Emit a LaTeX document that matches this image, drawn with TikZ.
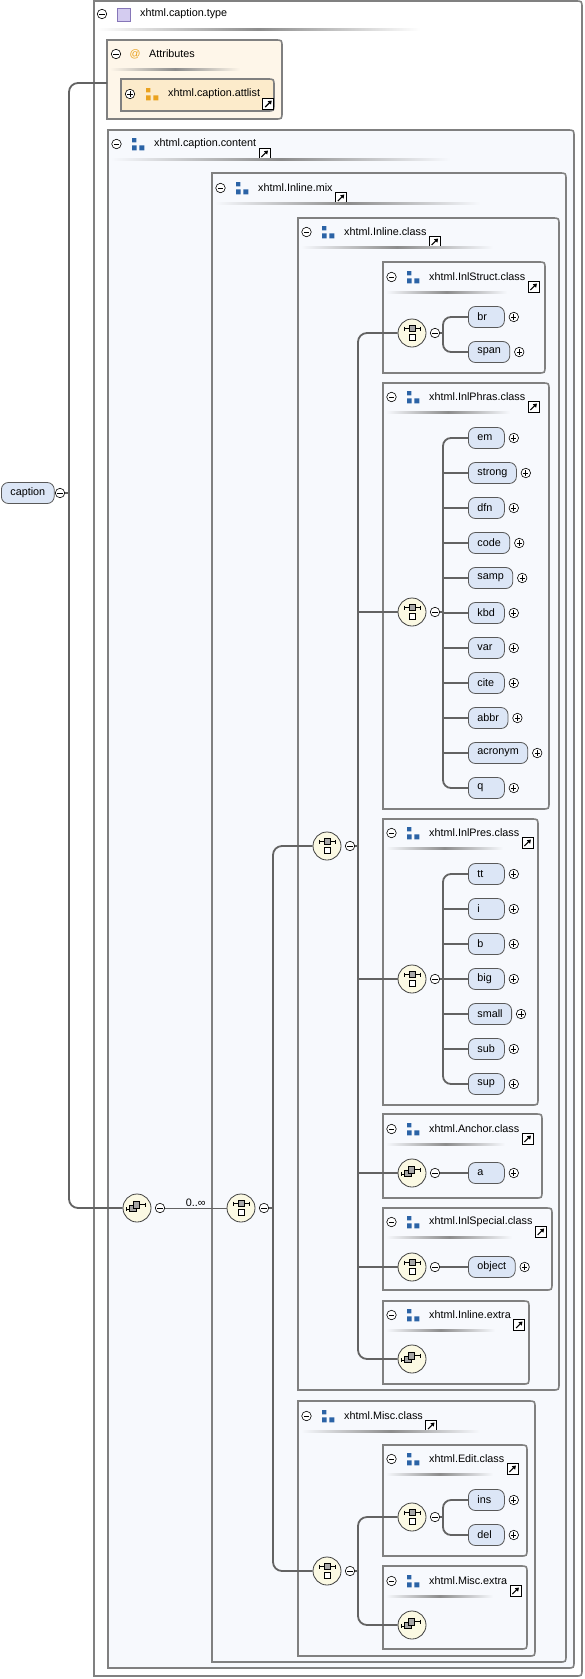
\documentclass[tikz,border=0pt]{standalone}
\usepackage{fontspec}
\setmainfont{Liberation Sans}
\usetikzlibrary{arrows.meta}

\definecolor{boxgray}{HTML}{808080}
\definecolor{boxfill}{HTML}{F7F9FD}
\definecolor{connline}{HTML}{636363}
\definecolor{elemfill}{HTML}{DCE6F6}
\definecolor{compfill}{HTML}{FBF9E3}
\definecolor{attrfill}{HTML}{FEF6E9}
\definecolor{attlfill}{HTML}{FCEBCB}
\definecolor{groupblue}{HTML}{2B63A6}
\definecolor{attrorange}{HTML}{EAA21E}
\definecolor{typefill}{HTML}{D4CCF0}
\definecolor{typeline}{HTML}{8676B8}

\newsavebox{\elnamebox}
\newcommand{\lname}[1]{\sbox{\elnamebox}{#1}\ifdim\wd\elnamebox<18pt\makebox[18pt][l]{#1}\else#1\fi}

% box with square left and round right corners
\newcommand{\rbox}[5][container]{%
  \draw[#1] (#2,#3) -- (#4-7,#3) .. controls (#4,#3) .. (#4,#3+7) -- (#4,#5-7) .. controls (#4,#5) .. (#4-7,#5) -- (#2,#5) -- cycle;}

\newcommand{\btitle}[5]{%
  \node[minus] (#1-o) at (#2+8.5,#3) {};
  \pic[groupblue] at (#2+30,#3) {groupsym};
  \node[title] (#1-t) at (#2+46,#3) {#4};
  \node[link] (#1-l) at ([shift={(8pt,-10pt)}]#1-t.east) {};
  \shade[left color=boxfill, right color=boxfill, middle color=black!45] (#2+3,#3+14) rectangle (#5,#3+16);}

\newcommand{\elem}[3]{%
  \node[elem] (#1) at (468,#2) {\lname{#3}};
  \node[plus] (#1-x) at ([xshift=9pt]#1.east) {};}

\tikzset{
  container/.style={draw=boxgray, line width=1.6pt, fill=boxfill},
  conn/.style={draw=connline, line width=1.8pt},
  title/.style={anchor=west, inner sep=0pt},
  elem/.style={draw=black!65, fill=elemfill, rounded corners=7pt, line width=0.8pt,
    minimum height=21pt, minimum width=36pt, inner xsep=9pt, inner ysep=0pt, anchor=west},
  comp/.style={circle, draw=black!75, fill=compfill, line width=0.8pt, minimum size=28pt, inner sep=0pt},
  minus/.style={circle, draw=black, fill=white, line width=0.6pt, minimum size=9.5pt, inner sep=0pt,
    path picture={\draw[line width=0.7pt] ([xshift=-2.6pt]path picture bounding box.center) -- ([xshift=2.6pt]path picture bounding box.center);}},
  plus/.style={minus,
    path picture={\draw[line width=0.7pt] ([xshift=-2.6pt]path picture bounding box.center) -- ([xshift=2.6pt]path picture bounding box.center)
      ([yshift=-2.6pt]path picture bounding box.center) -- ([yshift=2.6pt]path picture bounding box.center);}},
  link/.style={draw=black, fill=white, line width=0.7pt, minimum size=11pt, inner sep=0pt,
    path picture={\draw[line width=1.1pt, -{Triangle[length=3.5pt,width=4.5pt]}] ([shift={(2.5pt,2.5pt)}]path picture bounding box.south west) -- ([shift={(-2pt,-2pt)}]path picture bounding box.north east);}},
  pics/groupsym/.style={code={\fill (-6,-6) rectangle (-1.6,-1.6) (-6,1.4) rectangle (-1.4,6.4) (1.3,1.4) rectangle (6.3,6.4);}},
  pics/choicesym/.style={code={
    \draw[line width=0.6pt] (-8,-4.5) -- (8,-4.5) (-8,-6.5) -- (-8,-2.5) (8,-6.5) -- (8,-2.5);
    \draw[line width=0.6pt, fill=black!35] (-3,-7.5) rectangle (3,-1.5);
    \draw[line width=0.6pt, fill=white] (-3,1.5) rectangle (3,7.5);}},
  pics/seqsym/.style={code={
    \draw[line width=0.6pt] (-11,1) -- (-7.3,1) (-11,-1) -- (-11,3) (2.3,-3.3) -- (8.5,-3.3) (8.5,-5.3) -- (8.5,-1.3);
    \draw[line width=0.6pt, fill=black!35] (-7.3,-2.7) rectangle (-1,3.5);
    \draw[line width=0.6pt, fill=black!35] (-4,-6.3) rectangle (2.3,0);}},
}

\begin{document}
\begin{tikzpicture}[x=1pt, y=-1pt, font=\fontsize{10.8}{12}\selectfont]
\useasboundingbox (0,0) rectangle (585,1679);

% boxes
\rbox[container, fill=white]{94}{1}{582}{1676}
\rbox[container, fill=attrfill]{107}{40}{282}{119}
\rbox[container, fill=attlfill]{121}{79}{274}{111}
\rbox{108}{130}{574}{1668}
\rbox{212}{173}{566}{1662}
\rbox{298}{218}{559}{1390}
\rbox{383}{262}{545}{373}
\rbox{383}{383}{549}{809}
\rbox{383}{819}{538}{1105}
\rbox{383}{1114}{542}{1198}
\rbox{383}{1208}{552}{1290}
\rbox{383}{1301}{529}{1384}
\rbox{298}{1401}{535}{1656}
\rbox{383}{1445}{527}{1556}
\rbox{383}{1566}{527}{1649}

% titles
\node[minus] (type-o) at (102,14) {};
\draw[typeline, fill=typefill, line width=0.8pt] (117,8) rectangle (130,21);
\node[title] (type-t) at (140,14) {xhtml.caption.type};
\shade[left color=white, right color=white, middle color=black!45] (97,28) rectangle (420,30);

\node[minus] (attr-o) at (116,54) {};
\node[text=attrorange, inner sep=0pt] (attr-at) at (135,54) {@};
\node[title] (attr-t) at (149,54) {Attributes};
\shade[left color=attrfill, right color=attrfill, middle color=black!45] (110,68) rectangle (240,70);

\node[plus] (attl-o) at (130,94) {};
\pic[attrorange] at (152,94) {groupsym};
\node[title] (attl-t) at (168,94) {xhtml.caption.attlist};
\node[link] (attl-l) at ([shift={(8pt,-10pt)}]attl-t.east) {};

\btitle{cont}{108}{144}{xhtml.caption.content}{450}
\btitle{mix}{212}{188}{xhtml.Inline.mix}{480}
\btitle{inl}{298}{232}{xhtml.Inline.class}{493}
\btitle{struct}{383}{277}{xhtml.InlStruct.class}{507}
\btitle{phras}{383}{397}{xhtml.InlPhras.class}{510}
\btitle{pres}{383}{833}{xhtml.InlPres.class}{503}
\btitle{anchor}{383}{1129}{xhtml.Anchor.class}{505}
\btitle{special}{383}{1222}{xhtml.InlSpecial.class}{512}
\btitle{extra}{383}{1315}{xhtml.Inline.extra}{495}
\btitle{misc}{298}{1416}{xhtml.Misc.class}{480}
\btitle{edit}{383}{1459}{xhtml.Edit.class}{493}
\btitle{miscx}{383}{1581}{xhtml.Misc.extra}{493}

% nodes
\node[elem] (caption) at (1,493) {caption};
\node[minus] (caption-m) at (60,493) {};

\node[comp] (top-c) at (137,1208) {}; \pic at (top-c) {seqsym};
\node[minus] (top-m) at (160,1208) {};
\node[comp] (mix-c) at (241,1208) {}; \pic at (mix-c) {choicesym};
\node[minus] (mix-m) at (264,1208) {};
\node[comp] (inl-c) at (327,846) {}; \pic at (inl-c) {choicesym};
\node[minus] (inl-m) at (350,846) {};
\node[comp] (misc-c) at (327,1571) {}; \pic at (misc-c) {choicesym};
\node[minus] (misc-m) at (350,1571) {};

\foreach \c/\y in {struct/333, phras/612, pres/979, special/1267, edit/1517} {
  \node[comp] (\c-c) at (412,\y) {}; \pic at (\c-c) {choicesym};
  \node[minus] (\c-m) at (435,\y) {};
}
\node[comp] (anchor-c) at (412,1173) {}; \pic at (anchor-c) {seqsym};
\node[minus] (anchor-m) at (435,1173) {};
\node[comp] (extra-c) at (412,1359) {}; \pic at (extra-c) {seqsym};
\node[comp] (miscx-c) at (412,1625) {}; \pic at (miscx-c) {seqsym};

\elem{br}{317}{br}
\elem{span}{352}{span}
\foreach \n [count=\i from 0] in {em,strong,dfn,code,samp,kbd,var,cite,abbr,acronym,q}
  {\elem{\n}{438+35*\i}{\n}}
\foreach \n [count=\i from 0] in {tt,i,b,big,small,sub,sup}
  {\elem{\n}{874+35*\i}{\n}}
\elem{a}{1173}{a}
\elem{object}{1267}{object}
\elem{ins}{1500}{ins}
\elem{del}{1535}{del}

% connectors
\coordinate (attr-in) at (107,83);
\coordinate (capbar) at (69,493);
\coordinate (mixbar) at (273,1208);
\coordinate (inlbar) at (358,846);
\coordinate (miscbar) at (358,1571);
\coordinate (structbar) at (443,333);
\coordinate (phrasbar) at (443,612);
\coordinate (presbar) at (443,979);
\coordinate (editbar) at (443,1517);

\draw[conn, rounded corners=9pt] (attr-in) -| (capbar) |- (top-c.west);
\draw[conn] (caption-m.east) -- (capbar);
\draw[draw=connline, line width=0.8pt] (top-m.east) -- node[above, inner sep=1.5pt, text=black] (occurs) {0..∞} (mix-c.west);
\draw[conn] (mix-m.east) -- (mixbar);
\draw[conn, rounded corners=9pt] (inl-c.west) -| (mixbar) |- (misc-c.west);
\draw[conn] (inl-m.east) -- (inlbar);
\draw[conn, rounded corners=9pt] (struct-c.west) -| (inlbar) |- (extra-c.west);
\foreach \c in {phras,pres,anchor,special}
  \draw[conn] (inlbar |- \c-c.west) -- (\c-c.west);
\draw[conn] (misc-m.east) -- (miscbar);
\draw[conn, rounded corners=9pt] (edit-c.west) -| (miscbar) |- (miscx-c.west);

\draw[conn] (struct-m.east) -- (structbar);
\draw[conn, rounded corners=8pt] (br.west) -| (structbar) |- (span.west);
\draw[conn] (phras-m.east) -- (phrasbar);
\draw[conn, rounded corners=8pt] (em.west) -| (phrasbar) |- (q.west);
\foreach \n in {strong,dfn,code,samp,kbd,var,cite,abbr,acronym}
  \draw[conn] (phrasbar |- \n.west) -- (\n.west);
\draw[conn] (pres-m.east) -- (presbar);
\draw[conn, rounded corners=8pt] (tt.west) -| (presbar) |- (sup.west);
\foreach \n in {i,b,big,small,sub}
  \draw[conn] (presbar |- \n.west) -- (\n.west);
\draw[conn] (anchor-m.east) -- (a.west);
\draw[conn] (special-m.east) -- (object.west);
\draw[conn] (edit-m.east) -- (editbar);
\draw[conn, rounded corners=8pt] (ins.west) -| (editbar) |- (del.west);
\end{tikzpicture}
\end{document}
